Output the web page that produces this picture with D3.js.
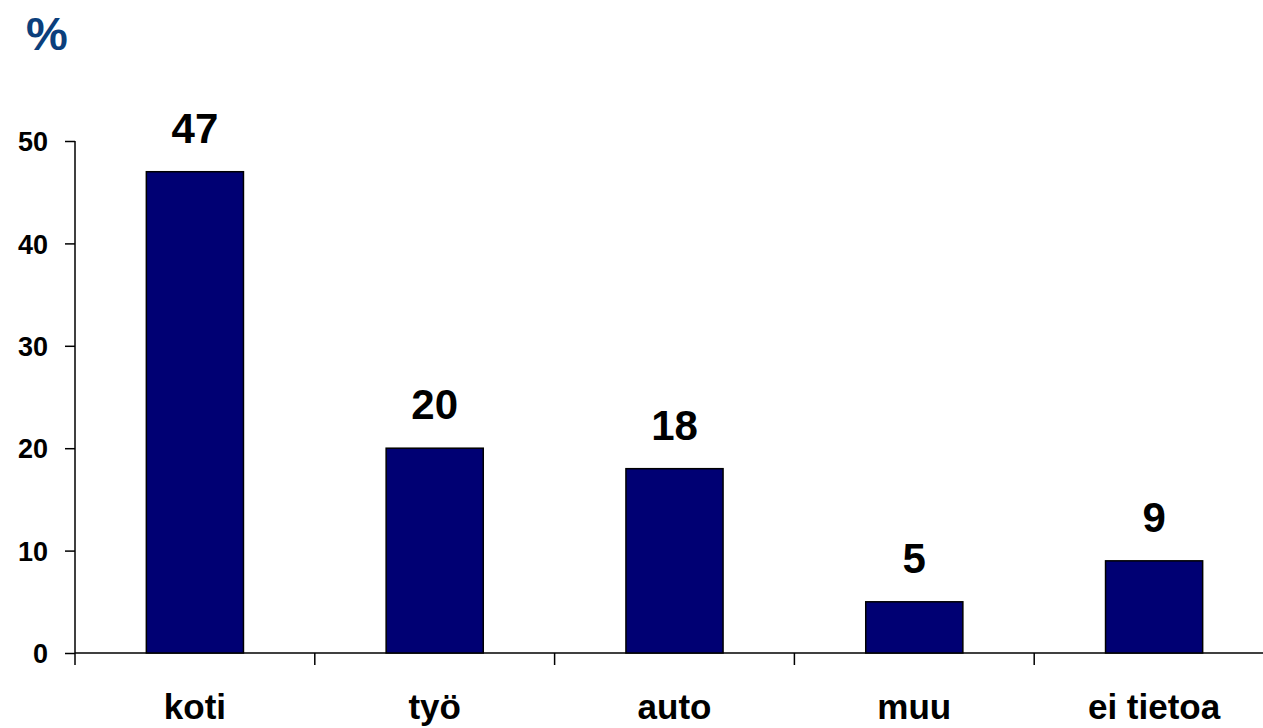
<!DOCTYPE html>
<html lang="fi">
<head>
<meta charset="UTF-8">
<title>Bar chart</title>
<script src="https://d3js.org/d3.v7.min.js"></script>
<style>
  body { margin: 0; background: #fff; font-family: "Liberation Sans", Arial, sans-serif; }
  svg { display: block; }
  .axis path, .axis line { stroke: #000; stroke-width: 1.5px; }
  .axis text { font-weight: bold; fill: #000; }
</style>
</head>
<body>
<svg width="1263" height="728"></svg>
<script>
const categories = ["koti", "työ", "auto", "muu", "ei tietoa"];
const values = [47, 20, 18, 5, 9];
const yTicks = [0, 10, 20, 30, 40, 50];

const svg = d3.select("svg");
const plotLeft = 75, plotRight = 1274, plotTop = 141, plotBottom = 653;

const x = d3.scaleBand().domain(categories).range([plotLeft, plotRight]).paddingInner(0.595).paddingOuter(0.2975);
const y = d3.scaleLinear().domain([0, 50]).range([plotBottom, plotTop]);

// y axis
const yAxis = svg.append("g").attr("class", "axis")
    .attr("transform", `translate(${plotLeft},0)`)
    .call(d3.axisLeft(y).tickValues(yTicks).tickSize(10).tickPadding(17).tickSizeOuter(0));
yAxis.select(".domain").attr("d", `M0,${plotTop}V${plotBottom}`);
yAxis.selectAll("text").style("font-size", "27px").attr("dy", "0.36em");

// x axis with ticks between categories
const xg = svg.append("g").attr("class", "axis");
xg.append("line").attr("x1", plotLeft).attr("x2", plotRight).attr("y1", plotBottom).attr("y2", plotBottom);
const step = (plotRight - plotLeft) / categories.length;
xg.selectAll("line.tick").data(d3.range(categories.length)).enter().append("line")
    .attr("class", "tick")
    .attr("x1", i => plotLeft + i * step).attr("x2", i => plotLeft + i * step)
    .attr("y1", plotBottom).attr("y2", plotBottom + 12);
xg.selectAll("text").data(categories).enter().append("text")
    .attr("x", d => x(d) + x.bandwidth() / 2)
    .attr("y", 719)
    .attr("text-anchor", "middle")
    .style("font-size", "35px")
    .text(d => d);

// bars
svg.append("g").selectAll("rect").data(values).enter().append("rect")
    .attr("x", (d, i) => x(categories[i]))
    .attr("y", d => y(d))
    .attr("width", x.bandwidth())
    .attr("height", d => plotBottom - y(d))
    .attr("fill", "#000073")
    .attr("stroke", "#000")
    .attr("stroke-width", 1.5);

// value labels
svg.append("g").selectAll("text").data(values).enter().append("text")
    .attr("x", (d, i) => x(categories[i]) + x.bandwidth() / 2)
    .attr("y", d => y(d) - 29)
    .attr("text-anchor", "middle")
    .style("font-size", "42px")
    .style("font-weight", "bold")
    .text(d => d);

// unit label
svg.append("text")
    .attr("x", 26).attr("y", 50)
    .style("font-size", "47px")
    .style("font-weight", "bold")
    .attr("fill", "#0b3f7c")
    .text("%");
</script>
</body>
</html>
